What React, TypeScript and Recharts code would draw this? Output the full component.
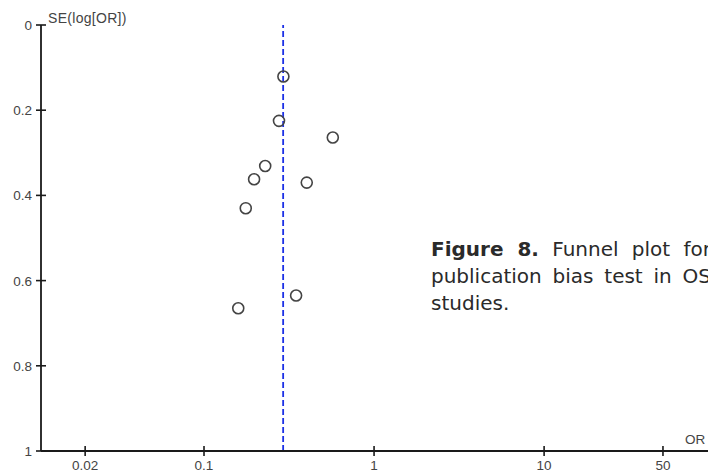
import { ReferenceLine, Scatter, ScatterChart, XAxis, YAxis } from "recharts";

// odds ratio and standard error of log(OR) for each study
const oddsRatios = [0.293, 0.276, 0.572, 0.229, 0.197, 0.402, 0.176, 0.348, 0.159];
const standardErrors = [0.121, 0.225, 0.264, 0.331, 0.362, 0.37, 0.43, 0.635, 0.665];
const pooledOR = 0.292;

const xTicks = [0.02, 0.1, 1, 10, 50];
const yTicks = [0, 0.2, 0.4, 0.6, 0.8, 1];

const points = oddsRatios.map((or, i) => ({ or, se: standardErrors[i] }));

const axisColor = "#1a1a1a";
const labelColor = "#444";
const tickFont = "'Liberation Sans', Arial, sans-serif";

function XTick(props: any) {
  const { x, y, payload } = props;
  const axisY = y - 8;
  return (
    <g>
      <line x1={x} x2={x} y1={axisY - 5} y2={axisY + 5} stroke={axisColor} strokeWidth={1.6} />
      <text x={x} y={axisY + 19} textAnchor="middle" fontSize={13.5} fontFamily={tickFont} fill={labelColor}>
        {payload.value}
      </text>
    </g>
  );
}

function YTick(props: any) {
  const { x, y, payload } = props;
  const axisX = x + 8;
  return (
    <g>
      <line x1={axisX - 5} x2={axisX + 5} y1={y} y2={y} stroke={axisColor} strokeWidth={1.6} />
      <text x={axisX - 9} y={y + 5} textAnchor="end" fontSize={13.5} fontFamily={tickFont} fill={labelColor}>
        {payload.value}
      </text>
    </g>
  );
}

function Ring(props: any) {
  const { cx, cy } = props;
  return <circle cx={cx} cy={cy} r={5.5} fill="none" stroke="#444" strokeWidth={1.6} />;
}

export default function App() {
  return (
    <div style={{ position: "relative", width: 708, height: 474, overflow: "hidden", background: "#fff" }}>
      <style>{`body{margin:0}`}</style>
      <ScatterChart width={708} height={474} margin={{ top: 25, right: 0, bottom: 0, left: 0 }}>
        <XAxis
          dataKey="or"
          type="number"
          scale="log"
          domain={[0.011, 92]}
          allowDataOverflow
          ticks={xTicks}
          height={23}
          tickSize={6}
          tickMargin={2}
          tickLine={false}
          tick={<XTick />}
          axisLine={{ stroke: axisColor, strokeWidth: 1.8 }}
        />
        <YAxis
          dataKey="se"
          type="number"
          domain={[0, 1]}
          reversed
          ticks={yTicks}
          width={41}
          tickSize={6}
          tickMargin={2}
          tickLine={false}
          tick={<YTick />}
          axisLine={{ stroke: axisColor, strokeWidth: 1.8 }}
        />
        <ReferenceLine x={pooledOR} stroke="#1c30e6" strokeWidth={1.8} strokeDasharray="6 3" />
        <Scatter data={points} shape={<Ring />} isAnimationActive={false} />
      </ScatterChart>
      <div
        style={{
          position: "absolute",
          left: 48,
          top: 10,
          fontFamily: tickFont,
          fontSize: 14,
          letterSpacing: 0.3,
          color: labelColor
        }}
      >
        SE(log[OR])
      </div>
      <div
        style={{
          position: "absolute",
          left: 685,
          top: 432,
          fontFamily: tickFont,
          fontSize: 13.5,
          color: labelColor
        }}
      >
        OR
      </div>
      <div
        style={{
          position: "absolute",
          left: 431,
          top: 236,
          width: 280,
          fontFamily: "'DejaVu Sans', sans-serif",
          fontSize: 20,
          lineHeight: "27px",
          textAlign: "justify",
          color: "#2a2a2a"
        }}
      >
        <b>Figure 8.</b> Funnel plot for publication bias test in OS studies.
      </div>
    </div>
  );
}
